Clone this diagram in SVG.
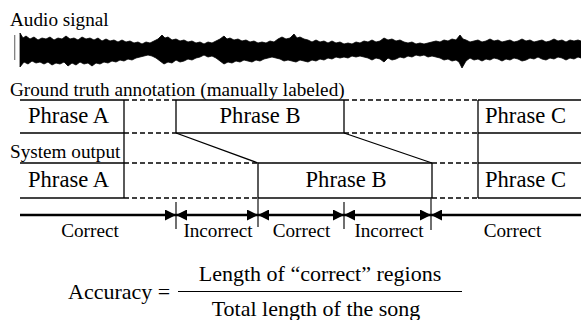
<svg xmlns="http://www.w3.org/2000/svg" width="581" height="320" viewBox="0 0 581 320">
<style>
  text { font-family: "Liberation Serif", "Times New Roman", serif; fill: #000; }
  .lbl { font-size: 19.2px; }
  .ph { font-size: 22.6px; }
  .fm { font-size: 22px; }
  .solid { stroke: #000; stroke-width: 1.3; fill: none; }
  .bot { stroke: #444; stroke-width: 2; fill: none; }
  .dash { stroke: #000; stroke-width: 1.6; stroke-dasharray: 5 3; fill: none; }
  .vl { stroke: #000; stroke-width: 1.3; }
  .tick { stroke: #222; stroke-width: 1.3; }
  .axis { stroke: #000; stroke-width: 2.6; fill: none; }
</style>
<defs>
  <marker id="ah" viewBox="0 0 10 10" refX="10" refY="5" markerUnits="userSpaceOnUse" markerWidth="11" markerHeight="11" orient="auto-start-reverse">
    <path d="M0,0 L10,5 L0,10 z" fill="#000"/>
  </marker>
</defs>
<rect width="581" height="320" fill="#fff"/>

<g id="audio">
  <text class="lbl" x="10" y="25.5">Audio signal</text>
  <line x1="14.7" y1="35" x2="14.7" y2="60" stroke="#777" stroke-width="1.2"/>
  <path fill="#000" stroke="#000" stroke-width="0.8" stroke-linejoin="miter" d="M20,33 L23,38 L26,36 L30,39 L34,37 L38,40 L42,38 L46,39 L50,37 L54,40 L58,38 L62,39 L66,36 L70,39 L74,38 L78,40 L82,37 L86,39 L90,38 L94,40 L98,38 L102,41 L106,39 L110,41 L114,40 L118,42 L122,40 L126,42 L130,41 L134,43 L138,42 L142,44 L146,42 L150,43 L154,41 L158,39 L162,35 L165,38 L168,37 L172,40 L176,39 L180,41 L184,40 L188,42 L192,41 L196,43 L200,42 L204,44 L208,42 L212,43 L216,41 L220,39 L224,36 L227,39 L230,38 L234,40 L238,39 L242,41 L246,40 L250,42 L254,41 L258,43 L262,42 L266,43 L270,41 L274,42 L278,39 L282,37 L286,39 L290,38 L294,34 L297,38 L300,37 L304,39 L308,40 L312,42 L316,40 L320,42 L324,41 L328,43 L332,41 L336,43 L340,42 L344,44 L348,43 L352,44 L356,42 L360,43 L364,41 L368,42 L372,40 L376,42 L380,41 L384,38 L388,40 L392,39 L396,41 L400,40 L404,42 L408,43 L412,42 L416,44 L420,43 L424,44 L428,43 L432,42 L436,41 L440,42 L444,40 L448,41 L452,39 L456,40 L460,35 L463,39 L466,40 L470,42 L474,41 L478,40 L482,42 L486,41 L490,39 L494,41 L498,40 L502,42 L506,41 L510,40 L514,42 L518,41 L522,39 L526,41 L530,40 L534,42 L538,41 L542,40 L546,42 L550,41 L554,39 L558,41 L562,40 L566,42 L570,40 L574,41 L578,40 L581,41 L581,58 L578,57 L574,59 L570,58 L566,60 L562,58 L558,57 L554,59 L550,58 L546,60 L542,59 L538,57 L534,59 L530,58 L526,60 L522,61 L518,59 L514,58 L510,60 L506,59 L502,61 L498,59 L494,58 L490,60 L486,59 L482,61 L478,59 L474,60 L470,58 L466,61 L462,68 L459,62 L456,60 L452,61 L448,59 L444,60 L440,58 L436,57 L432,56 L428,57 L424,55 L420,56 L416,55 L412,57 L408,56 L404,58 L400,57 L396,59 L392,60 L388,58 L384,62 L380,59 L376,58 L372,60 L368,58 L364,57 L360,56 L356,57 L352,56 L348,58 L344,57 L340,58 L336,57 L332,59 L328,58 L324,60 L320,59 L316,61 L312,60 L308,62 L304,61 L300,60 L296,62 L292,61 L288,60 L284,61 L280,59 L276,58 L272,57 L268,58 L264,59 L260,61 L256,60 L252,62 L248,61 L244,60 L240,62 L236,61 L232,63 L228,62 L224,64 L220,61 L216,58 L212,56 L208,57 L204,55 L200,57 L196,58 L192,60 L188,59 L184,61 L180,62 L176,60 L172,63 L168,62 L164,64 L160,61 L156,58 L152,56 L148,55 L144,56 L140,57 L136,58 L132,60 L128,59 L124,61 L120,60 L116,62 L112,61 L108,63 L104,62 L100,64 L96,63 L92,66 L88,63 L84,64 L80,62 L76,65 L72,63 L68,66 L64,62 L60,64 L56,63 L52,65 L48,62 L44,64 L40,62 L36,63 L32,61 L28,64 L24,62 L20,67 Z"/>
</g>

<text class="lbl" x="10" y="95.5">Ground truth annotation (manually labeled)</text>
<text class="lbl" x="10" y="158">System output</text>

<g id="gt-phrase-a">
  <path class="solid" d="M20,100 H124 M20,133 H124"/>
  <text class="ph" x="28" y="123">Phrase A</text>
</g>
<g id="gt-gap-1">
  <path class="dash" d="M124,100 H176 M124,133 H176"/>
</g>
<g id="gt-phrase-b">
  <path class="solid" d="M176,100 H344 M176,133 H344"/>
  <line class="vl" x1="176" y1="100" x2="176" y2="133"/>
  <line class="vl" x1="344" y1="100" x2="344" y2="133"/>
  <text class="ph" x="260" y="123" text-anchor="middle">Phrase B</text>
</g>
<g id="gt-gap-2">
  <path class="dash" d="M344,100 H478 M344,133 H478"/>
</g>
<g id="gt-phrase-c">
  <path class="solid" d="M478,100 H581 M478,133 H581"/>
  <text class="ph" x="485" y="123">Phrase C</text>
</g>

<g id="so-phrase-a">
  <path class="solid" d="M20,163 H124"/>
  <path class="bot" d="M20,198 H124"/>
  <text class="ph" x="28" y="187">Phrase A</text>
</g>
<g id="so-gap-1">
  <path class="dash" d="M124,163 H258 M124,198 H258"/>
</g>
<g id="so-phrase-b">
  <path class="solid" d="M258,163 H432"/>
  <path class="bot" d="M258,198 H432"/>
  <line class="vl" x1="258" y1="163" x2="258" y2="198"/>
  <line class="vl" x1="432" y1="163" x2="432" y2="198"/>
  <text class="ph" x="346" y="187" text-anchor="middle">Phrase B</text>
</g>
<g id="so-gap-2">
  <path class="dash" d="M432,163 H478 M432,198 H478"/>
</g>
<g id="so-phrase-c">
  <path class="solid" d="M478,163 H581"/>
  <path class="bot" d="M478,198 H581"/>
  <text class="ph" x="485" y="187">Phrase C</text>
</g>

<g id="boundaries">
  <line class="vl" x1="124" y1="100" x2="124" y2="198"/>
  <line class="vl" x1="478" y1="100" x2="478" y2="198"/>
</g>

<g id="connectors">
  <line class="vl" x1="176" y1="133" x2="258" y2="163"/>
  <line class="vl" x1="344" y1="133" x2="432" y2="163"/>
</g>

<g id="timeline">
  <line class="tick" x1="176" y1="202" x2="176" y2="229"/>
  <line class="tick" x1="258" y1="198" x2="258" y2="227"/>
  <line class="tick" x1="344" y1="202" x2="344" y2="229"/>
  <line class="tick" x1="431" y1="198" x2="431" y2="230"/>
  <line class="axis" x1="20" y1="215" x2="176" y2="215" marker-end="url(#ah)"/>
  <line class="axis" x1="176" y1="215" x2="258" y2="215" marker-start="url(#ah)" marker-end="url(#ah)"/>
  <line class="axis" x1="258" y1="215" x2="344" y2="215" marker-start="url(#ah)" marker-end="url(#ah)"/>
  <line class="axis" x1="344" y1="215" x2="431" y2="215" marker-start="url(#ah)" marker-end="url(#ah)"/>
  <line class="axis" x1="431" y1="215" x2="581" y2="215" marker-start="url(#ah)"/>
  <text class="lbl" x="90" y="237" text-anchor="middle">Correct</text>
  <text class="lbl" x="218" y="237" text-anchor="middle">Incorrect</text>
  <text class="lbl" x="301.5" y="237" text-anchor="middle">Correct</text>
  <text class="lbl" x="389" y="237" text-anchor="middle">Incorrect</text>
  <text class="lbl" x="512.5" y="237" text-anchor="middle">Correct</text>
</g>

<g id="formula">
  <text class="fm" x="68" y="299">Accuracy =</text>
  <line x1="178" y1="291.5" x2="462" y2="291.5" stroke="#000" stroke-width="1.2"/>
  <text class="fm" x="320" y="281" text-anchor="middle">Length of “correct” regions</text>
  <text class="fm" x="316" y="316" text-anchor="middle">Total length of the song</text>
</g>
</svg>
